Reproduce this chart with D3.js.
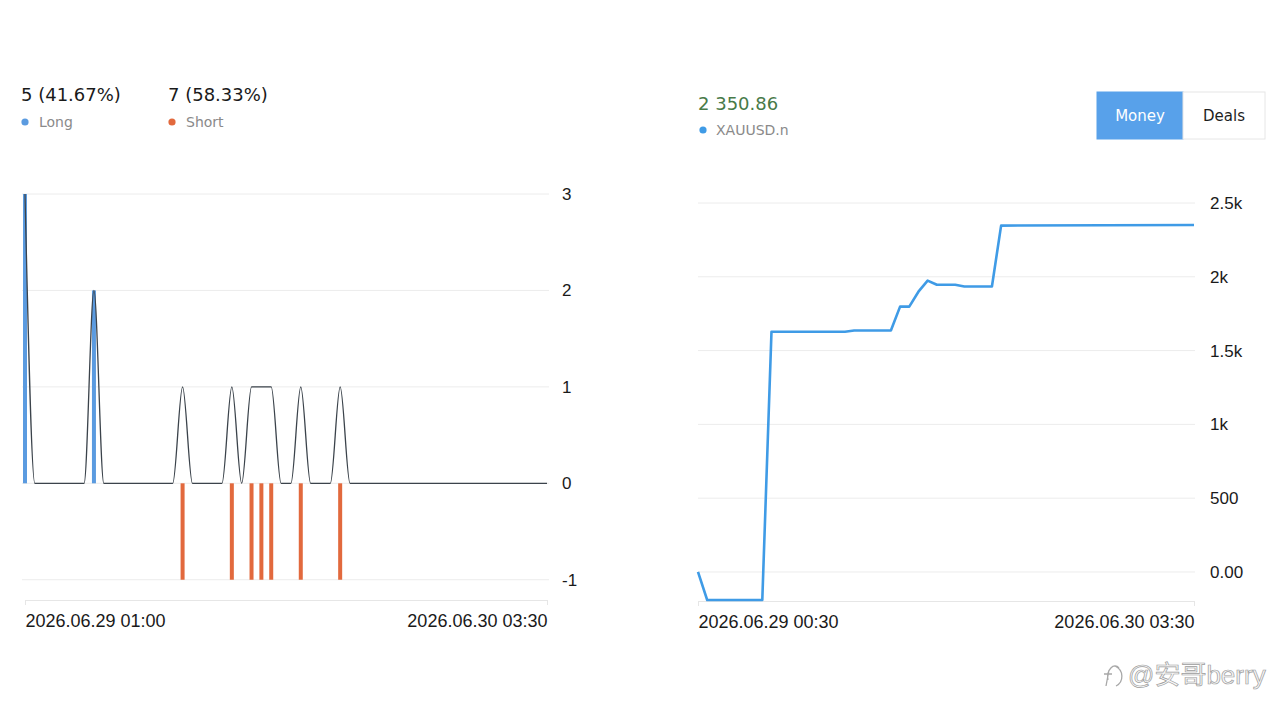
<!DOCTYPE html>
<html>
<head>
<meta charset="utf-8">
<script src="https://cdn.jsdelivr.net/npm/d3@7"></script>
<style>
  body { margin: 0; background: #fff; }
  svg { display: block; }
  .axis text { font-family: "Liberation Sans", Arial, sans-serif; font-size: 17px; fill: #1a1a1a; }
  .axis.x text { font-size: 18px; }
  .hdr { font-family: "DejaVu Sans", Verdana, sans-serif; }
</style>
</head>
<body>
<div id="chart"></div>
<script>
// ---- data ----
const parseTime = d3.timeParse("%Y.%m.%d %H:%M");

// deals per 30-minute bucket, starting 2026.06.29 01:00
const bucketStart = "2026.06.29 01:00";
const dealCounts = [3, 0, 0, 0, 0, 0, 0, 2, 0, 0, 0, 0, 0, 0, 0, 0,
    1, 0, 0, 0, 0, 1, 0, 1, 1, 1, 0, 0, 1, 0, 0, 0, 1, 0, 0, 0,
    0, 0, 0, 0, 0, 0, 0, 0, 0, 0, 0, 0, 0, 0, 0, 0, 0, 0];

const longTimes = ["2026.06.29 01:00", "2026.06.29 04:30"];
const longVolumes = [3, 2];
const shortTimes = ["2026.06.29 09:00", "2026.06.29 11:30", "2026.06.29 12:30",
    "2026.06.29 13:00", "2026.06.29 13:30", "2026.06.29 15:00", "2026.06.29 17:00"];
const shortVolumes = [-1, -1, -1, -1, -1, -1, -1];

const dealsRange = ["2026.06.29 01:00", "2026.06.30 03:30"];
const dealsTicks = [-1, 0, 1, 2, 3];

// balance (money) line
const balanceTimes = ["2026.06.29 00:30", "2026.06.29 01:00", "2026.06.29 04:00",
    "2026.06.29 04:30", "2026.06.29 08:30", "2026.06.29 09:00", "2026.06.29 11:00",
    "2026.06.29 11:30", "2026.06.29 12:00", "2026.06.29 12:30", "2026.06.29 13:00",
    "2026.06.29 13:30", "2026.06.29 14:30", "2026.06.29 15:00", "2026.06.29 16:30",
    "2026.06.29 17:00", "2026.06.30 03:30"];
const balanceValues = [0, -190, -190, 1628, 1628, 1636, 1636, 1798, 1798, 1899, 1974,
    1946, 1946, 1934, 1934, 2347, 2350.86];
const moneyRange = ["2026.06.29 00:30", "2026.06.30 03:30"];
const moneyTicks = [0, 500, 1000, 1500, 2000, 2500];

const blue = "#5b9be0", orange = "#e2693d", lineBlue = "#3f9be6";

const svg = d3.select("#chart").append("svg")
    .attr("width", 1280)
    .attr("height", 717);

// ---------- left chart: deals ----------
const xL = d3.scaleTime()
    .domain(dealsRange.map(parseTime))
    .range([25, 547]);
const yL = d3.scaleLinear()
    .domain([-1.21, 3])
    .range([600, 194]);

const gL = svg.append("g");

// grid
gL.append("g").selectAll("line")
    .data(dealsTicks)
    .join("line")
    .attr("x1", 22).attr("x2", 549)
    .attr("y1", d => yL(d)).attr("y2", d => yL(d))
    .attr("stroke", "#ececec");

// right y labels
gL.append("g").attr("class", "axis")
    .attr("transform", "translate(549,0)")
    .call(d3.axisRight(yL).tickValues(dealsTicks).tickSize(0).tickPadding(13).tickFormat(d => String(d)))
    .call(g => g.select(".domain").remove());

// bottom axis
gL.append("g").attr("class", "axis x")
    .attr("transform", "translate(0,600)")
    .call(d3.axisBottom(xL).tickValues(dealsRange.map(parseTime)).tickSize(5).tickPadding(9)
        .tickFormat(d3.timeFormat("%Y.%m.%d %H:%M")))
    .call(g => g.select(".domain").attr("stroke", "#e6e6e6"))
    .call(g => g.selectAll(".tick line").attr("stroke", "#e6e6e6"))
    .call(g => g.selectAll(".tick text").attr("text-anchor", (d, i) => i === 0 ? "start" : "end"));

// long bars
gL.append("g").selectAll("rect")
    .data(longTimes.map((t, i) => ({t: parseTime(t), v: longVolumes[i]})))
    .join("rect")
    .attr("x", d => xL(d.t) - 2)
    .attr("width", 4)
    .attr("y", d => yL(d.v))
    .attr("height", d => yL(0) - yL(d.v))
    .attr("fill", blue);

// short bars
gL.append("g").selectAll("rect")
    .data(shortTimes.map((t, i) => ({t: parseTime(t), v: shortVolumes[i]})))
    .join("rect")
    .attr("x", d => xL(d.t) - 2)
    .attr("width", 4)
    .attr("y", yL(0))
    .attr("height", d => yL(d.v) - yL(0))
    .attr("fill", orange);

// deals count line
const startDate = parseTime(bucketStart);
gL.append("path")
    .datum(dealCounts.map((v, i) => ({t: d3.timeMinute.offset(startDate, i * 30), v: v})))
    .attr("fill", "none")
    .attr("stroke", "#3b434b")
    .attr("stroke-width", 1.3)
    .attr("d", d3.line()
        .curve(d3.curveMonotoneX)
        .x(d => xL(d.t))
        .y(d => yL(d.v)));

// legend
const hdrL = svg.append("g").attr("class", "hdr");
const legendL = [
    {x: 21, value: "5 (41.67%)", name: "Long", color: blue},
    {x: 168, value: "7 (58.33%)", name: "Short", color: orange}
];
legendL.forEach(d => {
    hdrL.append("text").attr("x", d.x).attr("y", 101)
        .attr("font-size", 18).attr("fill", "#1a1a1a").text(d.value);
    hdrL.append("circle").attr("cx", d.x + 4).attr("cy", 122).attr("r", 3.6).attr("fill", d.color);
    hdrL.append("text").attr("x", d.x + 18).attr("y", 127)
        .attr("font-size", 14).attr("fill", "#8a8a8a").text(d.name);
});

// ---------- right chart: money ----------
const xR = d3.scaleTime()
    .domain(moneyRange.map(parseTime))
    .range([698, 1194]);
const yR = d3.scaleLinear()
    .domain([-190, 2500])
    .range([600, 203]);

const gR = svg.append("g");

gR.append("g").selectAll("line")
    .data(moneyTicks)
    .join("line")
    .attr("x1", 698).attr("x2", 1195)
    .attr("y1", d => yR(d)).attr("y2", d => yR(d))
    .attr("stroke", "#ececec");

gR.append("g").attr("class", "axis")
    .attr("transform", "translate(1195,0)")
    .call(d3.axisRight(yR).tickValues(moneyTicks).tickSize(0).tickPadding(15)
        .tickFormat(d => d === 0 ? "0.00" : d < 1000 ? d : (d / 1000) + "k"))
    .call(g => g.select(".domain").remove());

gR.append("g").attr("class", "axis x")
    .attr("transform", "translate(0,601)")
    .call(d3.axisBottom(xR).tickValues(moneyRange.map(parseTime)).tickSize(5).tickPadding(9)
        .tickFormat(d3.timeFormat("%Y.%m.%d %H:%M")))
    .call(g => g.select(".domain").attr("stroke", "#e6e6e6"))
    .call(g => g.selectAll(".tick line").attr("stroke", "#e6e6e6"))
    .call(g => g.selectAll(".tick text").attr("text-anchor", (d, i) => i === 0 ? "start" : "end"));

gR.append("path")
    .datum(balanceTimes.map((t, i) => ({t: parseTime(t), v: balanceValues[i]})))
    .attr("fill", "none")
    .attr("stroke", lineBlue)
    .attr("stroke-width", 2.6)
    .attr("stroke-linejoin", "round")
    .attr("d", d3.line()
        .x(d => xR(d.t))
        .y(d => yR(d.v)));

const hdrR = svg.append("g").attr("class", "hdr");
hdrR.append("text").attr("x", 698).attr("y", 110)
    .attr("font-size", 18).attr("fill", "#487a48")
    .text(d3.format(",.2f")(balanceValues[balanceValues.length - 1]).replace(",", " "));
hdrR.append("circle").attr("cx", 703).attr("cy", 130).attr("r", 3.6).attr("fill", lineBlue);
hdrR.append("text").attr("x", 716).attr("y", 135)
    .attr("font-size", 14).attr("fill", "#8a8a8a").text("XAUUSD.n");

// Money / Deals toggle
const buttons = [
    {label: "Money", x: 1097, w: 86, active: true},
    {label: "Deals", x: 1183, w: 82, active: false}
];
const btn = hdrR.selectAll("g.btn")
    .data(buttons)
    .join("g").attr("class", "btn");
btn.append("rect")
    .attr("x", d => d.x).attr("y", 92)
    .attr("width", d => d.w).attr("height", 47)
    .attr("fill", d => d.active ? "#58a1ea" : "#fff")
    .attr("stroke", d => d.active ? "#58a1ea" : "#e6e6e6");
btn.append("text")
    .attr("x", d => d.x + d.w / 2).attr("y", 121)
    .attr("text-anchor", "middle")
    .attr("font-size", 15)
    .attr("fill", d => d.active ? "#fff" : "#1e1e1e")
    .text(d => d.label);

// watermark
const wm = svg.append("g").attr("transform", "translate(1100,684)");
wm.append("path")
    .attr("d", "M8,-4 C6,-14 14,-22 19,-16 M4,-10 L12,-10 M9,-14 L6,2 M15,-18 C24,-14 24,-2 16,2")
    .attr("fill", "none").attr("stroke", "#a8a8a8").attr("stroke-width", 1.3);
wm.append("text")
    .attr("x", 28).attr("y", 0)
    .attr("font-family", "'Liberation Sans', 'Noto Sans CJK SC', sans-serif")
    .attr("font-size", 26)
    .attr("fill", "#f7f7f7")
    .attr("stroke", "#9c9c9c")
    .attr("stroke-width", 0.7)
    .text("@安哥berry");
</script>
</body>
</html>
